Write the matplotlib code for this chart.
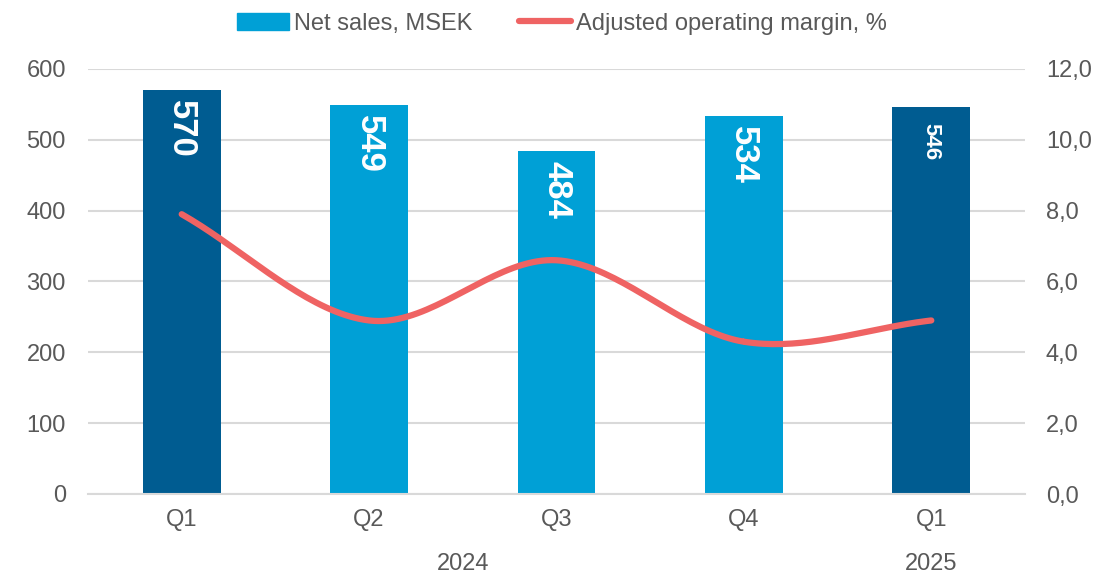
import numpy as np
import matplotlib.pyplot as plt
from matplotlib.patches import Patch
from matplotlib.lines import Line2D

plt.rcParams['font.family'] = ['Liberation Sans', 'DejaVu Sans']

# data
quarters = ['Q1', 'Q2', 'Q3', 'Q4', 'Q1']
years = ['2024', '2025']
sales = [570, 549, 484, 534, 546]
margin = [7.9, 4.9, 6.6, 4.3, 4.9]

dark = '#005C91'
light = '#00A0D6'
red = '#EF6363'
grey = '#595959'
bar_cols = [dark, light, light, light, dark]


def catmull(xs, ys, n=40):
    # smooth line like the spreadsheet's "smoothed line"
    xs = np.asarray(xs, float)
    ys = np.asarray(ys, float)
    px = np.concatenate([[2*xs[0]-xs[1]], xs, [2*xs[-1]-xs[-2]]])
    py = np.concatenate([[2*ys[0]-ys[1]], ys, [2*ys[-1]-ys[-2]]])
    ox, oy = [], []
    t = np.linspace(0, 1, n)
    for i in range(1, len(px)-2):
        for p, o in ((px, ox), (py, oy)):
            p0, p1, p2, p3 = p[i-1], p[i], p[i+1], p[i+2]
            o.extend(0.5*((2*p1) + (-p0+p2)*t + (2*p0-5*p1+4*p2-p3)*t**2
                          + (-p0+3*p1-3*p2+p3)*t**3))
    return np.array(ox), np.array(oy)


fig = plt.figure(figsize=(11.17, 5.78), dpi=100)
ax = fig.add_axes([88/1117, 1-494/578, (1025-88)/1117, (494-69)/578])
ax2 = ax.twinx()

x = np.arange(len(sales))
ax.bar(x, sales, width=0.416, color=bar_cols, zorder=2)
ax.set_xlim(-0.5, 4.5)
ax.set_ylim(0, 600)
ax.set_yticks(range(0, 601, 100))
ax.grid(axis='y', color='#D9D9D9', linewidth=1.5, zorder=0)
ax.set_axisbelow(True)
for s in ax.spines.values():
    s.set_visible(False)
for s in ax2.spines.values():
    s.set_visible(False)
ax.spines['bottom'].set_visible(True)
ax.spines['bottom'].set_color('#D9D9D9')
ax.spines['bottom'].set_linewidth(1.5)
ax.tick_params(length=0, labelsize=17, colors=grey, pad=16)
ax.tick_params(axis='x', pad=11)
ax.set_xticks(x)
ax.set_xticklabels(quarters)

for i, v in enumerate(sales):
    fs = 16 if i == 4 else 25
    off = 22 if i == 4 else 14
    ax.text(i, v - off, str(v), rotation=270, ha='center', va='top',
            color='white', fontsize=fs, fontweight='bold', zorder=3)

ax.text(1.5, -0.165, years[0], transform=ax.get_xaxis_transform(),
        ha='center', va='center', fontsize=17, color=grey)
ax.text(4, -0.165, years[1], transform=ax.get_xaxis_transform(),
        ha='center', va='center', fontsize=17, color=grey)

sx, sy = catmull(x, margin)
ax2.plot(sx, sy, color=red, linewidth=4.5, solid_capstyle='round', zorder=4)
ax2.set_ylim(0, 12)
ax2.set_yticks(np.arange(0, 12.1, 2))
ax2.set_yticklabels([f'{v:.1f}'.replace('.', ',') for v in np.arange(0, 12.1, 2)])
ax2.tick_params(length=0, labelsize=17, colors=grey, pad=15)

handles = [Patch(color=light), Line2D([0], [0], color=red, linewidth=4.5, solid_capstyle='round')]
fig.legend(handles, ['Net sales, MSEK', 'Adjusted operating margin, %'],
           loc='upper center', bbox_to_anchor=(0.503, 1.015), ncol=2, frameon=False,
           fontsize=17, labelcolor=grey, handlelength=2.2, handletextpad=0.2,
           columnspacing=2.0, handleheight=0.7)

fig.savefig('out.png', dpi=100)
